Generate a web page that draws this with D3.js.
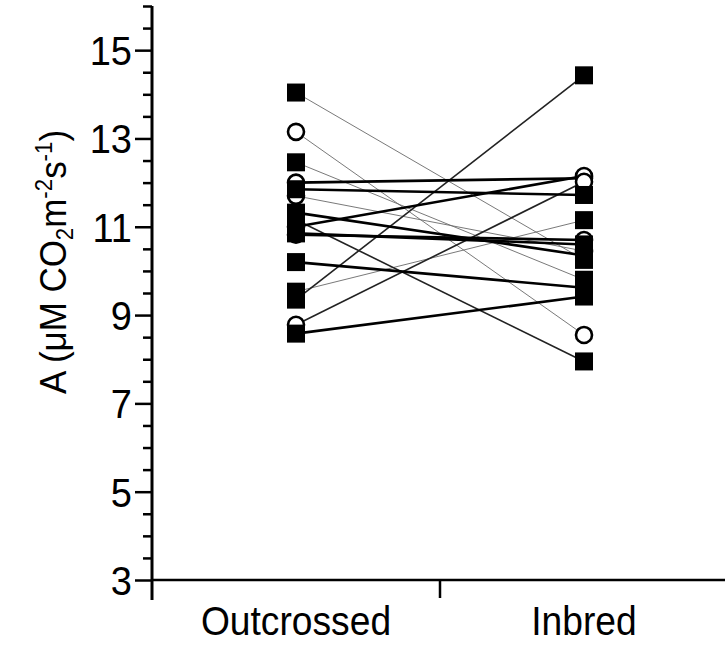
<!DOCTYPE html>
<html>
<head>
<meta charset="utf-8">
<script src="https://cdn.jsdelivr.net/npm/d3@7"></script>
<style>
  body { margin: 0; background: #fff; }
  text { font-family: "Liberation Sans", Arial, sans-serif; fill: #000; }
</style>
</head>
<body>
<div id="chart"></div>
<script>
// Paired measurements: one entry per family
const groups = ["Outcrossed", "Inbred"];
const outcrossed = [14.04, 13.15, 12.46, 12.00, 11.85, 11.70, 11.32, 11.16, 11.00, 10.85, 10.82, 10.20, 9.53, 9.35, 8.78, 8.58];
const inbred     = [10.25,  8.55,  9.80, 12.10, 11.72, 10.45, 10.35,  7.95, 12.15, 10.60, 10.70,  9.62, 11.15, 14.43, 12.02, 9.42];
const shapes     = ["square", "circle", "square", "circle", "square", "circle", "square", "square", "circle", "square", "circle", "square", "square", "square", "circle", "square"];
const weights    = [1, 1, 1, 3, 3, 1, 3, 2, 3, 3, 3, 3, 1, 2, 2, 3];
const majorTicks = [3, 5, 7, 9, 11, 13, 15];

const width = 725, height = 646;

const svg = d3.select("#chart").append("svg")
    .attr("width", width)
    .attr("height", height);

// Scales
const x = d3.scaleBand().domain(groups).range([152, 728]).paddingInner(0).paddingOuter(0);
const y = d3.scaleLinear().domain([3, 16]).range([580, 6]);

const strokeW = d3.scaleOrdinal().domain([1, 2, 3]).range([0.9, 1.6, 2.6]);
const strokeC = d3.scaleOrdinal().domain([1, 2, 3]).range(["#6a6a6a", "#222", "#000"]);

const pairs = outcrossed.map((v, i) => ({ a: v, b: inbred[i], shape: shapes[i], w: weights[i] }));
const cx = g => x(g) + x.bandwidth() / 2;

// Connecting lines (thin ones first)
svg.append("g")
    .selectAll("line")
    .data(pairs.slice().sort((p, q) => p.w - q.w))
    .enter()
    .append("line")
        .attr("x1", cx(groups[0]))
        .attr("y1", d => y(d.a))
        .attr("x2", cx(groups[1]))
        .attr("y2", d => y(d.b))
        .attr("stroke", d => strokeC(d.w))
        .attr("stroke-width", d => strokeW(d.w));

// Markers
const points = [];
pairs.forEach(p => {
    points.push({ g: groups[0], v: p.a, shape: p.shape });
    points.push({ g: groups[1], v: p.b, shape: p.shape });
});

const marks = svg.append("g");
marks.selectAll("circle")
    .data(points.filter(d => d.shape === "circle"))
    .enter()
    .append("circle")
        .attr("cx", d => cx(d.g))
        .attr("cy", d => y(d.v))
        .attr("r", 8)
        .attr("fill", "#fff")
        .attr("stroke", "#000")
        .attr("stroke-width", 2.6);

marks.selectAll("rect")
    .data(points.filter(d => d.shape === "square"))
    .enter()
    .append("rect")
        .attr("x", d => cx(d.g) - 9)
        .attr("y", d => y(d.v) - 9)
        .attr("width", 18)
        .attr("height", 18)
        .attr("fill", "#000");

// Y axis: minor ticks every 0.5, labelled majors on odd values
const minorTicks = d3.range(3, 16.01, 0.5).filter(v => majorTicks.indexOf(v) < 0);

svg.append("g")
    .attr("transform", "translate(152,0)")
    .call(d3.axisLeft(y).tickValues(minorTicks).tickSize(9).tickFormat(""))
    .call(g => g.select(".domain").remove())
    .call(g => g.selectAll("line").attr("stroke", "#000").attr("stroke-width", 2.5));

svg.append("g")
    .attr("transform", "translate(152,0)")
    .call(d3.axisLeft(y).tickValues(majorTicks).tickSize(17).tickPadding(3))
    .call(g => g.select(".domain").remove())
    .call(g => g.selectAll("line").attr("stroke", "#000").attr("stroke-width", 2.5))
    .call(g => g.selectAll("text")
        .attr("font-family", "Liberation Sans, Arial, sans-serif")
        .attr("font-size", 40)
        .attr("transform", "scale(0.95,1)")
        .attr("x", -20 / 0.95)
        .attr("dy", "0.36em"));

// Axis lines
svg.append("line")
    .attr("x1", 152).attr("x2", 152)
    .attr("y1", y(16)).attr("y2", 600)
    .attr("stroke", "#000").attr("stroke-width", 3);

svg.append("line")
    .attr("x1", 152).attr("x2", 728)
    .attr("y1", y(3)).attr("y2", y(3))
    .attr("stroke", "#000").attr("stroke-width", 2.5);

// X axis: ticks at group boundaries, labels at centres
svg.append("g")
    .selectAll("line")
    .data(groups.slice(1))
    .enter()
    .append("line")
        .attr("x1", d => x(d)).attr("x2", d => x(d))
        .attr("y1", y(3)).attr("y2", 598)
        .attr("stroke", "#000").attr("stroke-width", 2.5);

svg.append("g")
    .selectAll("text")
    .data(groups)
    .enter()
    .append("text")
        .attr("transform", d => `translate(${cx(d)},635) scale(0.93,1)`)
        .attr("text-anchor", "middle")
        .attr("font-size", 40)
        .text(d => d);

// Y axis title with sub/superscripts
const title = svg.append("text")
    .attr("transform", "translate(66,262) rotate(-90) scale(0.97,1.05)")
    .attr("text-anchor", "middle")
    .attr("font-size", 36);
title.append("tspan").text("A (\u03bcM CO");
title.append("tspan").attr("font-size", 23).attr("dy", 7).text("2");
title.append("tspan").attr("dy", -7).text("m");
title.append("tspan").attr("font-size", 23).attr("dy", -13).text("-2");
title.append("tspan").attr("dy", 13).text("s");
title.append("tspan").attr("font-size", 23).attr("dy", -13).text("-1");
title.append("tspan").attr("dy", 13).text(")");
</script>
</body>
</html>
